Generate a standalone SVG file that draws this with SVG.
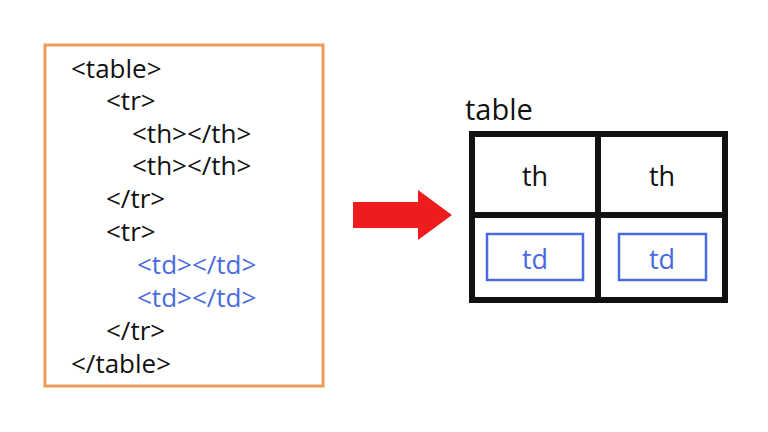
<svg xmlns="http://www.w3.org/2000/svg" width="768" height="432" viewBox="0 0 768 432">
<style>
text{font-family:"Open Sans","Noto Sans","Liberation Sans",sans-serif;font-size:26px;fill:#111}
.b{fill:#4a6be0}
.c{font-size:27px;text-anchor:middle}
.g{stroke:#111;stroke-width:6;fill:none}
</style>
<rect width="768" height="432" fill="#fff"/>
<g id="code">
<rect x="45" y="45" width="278" height="341" fill="none" stroke="#ee9a5c" stroke-width="3"/>
<text x="71" y="78">&lt;table&gt;</text>
<text x="106" y="110">&lt;tr&gt;</text>
<text x="132" y="143">&lt;th&gt;&lt;/th&gt;</text>
<text x="132" y="175">&lt;th&gt;&lt;/th&gt;</text>
<text x="106" y="208">&lt;/tr&gt;</text>
<text x="106" y="241">&lt;tr&gt;</text>
<text class="b" x="137" y="274">&lt;td&gt;&lt;/td&gt;</text>
<text class="b" x="137" y="307">&lt;td&gt;&lt;/td&gt;</text>
<text x="106" y="340">&lt;/tr&gt;</text>
<text x="71" y="373">&lt;/table&gt;</text>
</g>
<g id="connectors">
<polygon points="353,202 418,202 418,190 452,215 418,240 418,228 353,228" fill="#ee1c1c"/>
</g>
<g id="table">
<text x="465" y="120" style="font-size:29px">table</text>
<rect class="g" x="472" y="134" width="253" height="166"/>
<line class="g" x1="598" y1="134" x2="598" y2="300"/>
<line class="g" x1="472" y1="215" x2="725" y2="215"/>
<text class="c" x="535" y="186">th</text>
<text class="c" x="662" y="186">th</text>
<rect x="487" y="234" width="96" height="46" fill="none" stroke="#4a6be0" stroke-width="2.5"/>
<rect x="619" y="234" width="87" height="46" fill="none" stroke="#4a6be0" stroke-width="2.5"/>
<text class="c b" x="535" y="269">td</text>
<text class="c b" x="662" y="269">td</text>
</g>
</svg>
